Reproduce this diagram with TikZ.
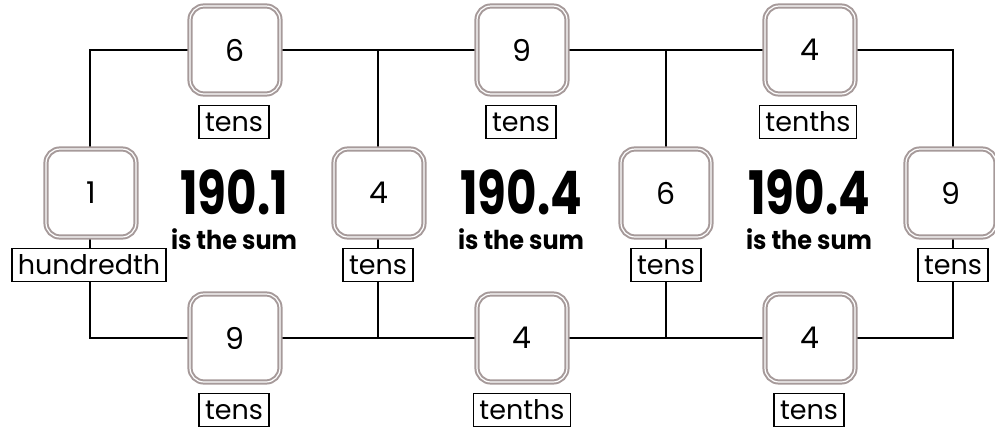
\documentclass[tikz,border=0pt]{standalone}
\usepackage{fontspec}
\usepackage{graphicx}
\setmainfont{Poppins}
\definecolor{bgray}{HTML}{A69A9A}
\begin{document}
\begin{tikzpicture}[x=1pt,y=-1pt,
  numbox/.style={draw=bgray, line width=2pt, double=white, double distance=1.2pt,
    rounded corners=14pt, fill=white, minimum width=90pt, minimum height=88pt,
    inner sep=0pt, font=\fontsize{30}{30}\selectfont},
  unitlabel/.style={draw=black, line width=1.5pt, fill=white, minimum height=33pt,
    inner xsep=6pt, inner ysep=0pt, font=\fontsize{27}{27}\selectfont},
  link/.style={draw=black, line width=1.5pt},
  bigsum/.style={anchor=base, inner sep=0pt, text height=42pt, text depth=0pt,
    font=\bfseries\fontsize{60}{60}\selectfont},
  sumtext/.style={anchor=base, inner sep=0pt, text height=19pt, text depth=0pt,
    font=\bfseries\fontsize{26}{26}\selectfont}]
\useasboundingbox (0,0) rectangle (995,429);
% corner and junction coordinates
\coordinate (tl) at (90,50);
\coordinate (tr) at (953,50);
\coordinate (bl) at (90,338);
\coordinate (br) at (953,338);
\coordinate (jta) at (378,50);
\coordinate (jtb) at (666,50);
\coordinate (jba) at (378,338);
\coordinate (jbb) at (666,338);
% connectors
\draw[link] (tl) -- (tr) -- (br) -- (bl) -- cycle;
\draw[link] (jta) -- (jba);
\draw[link] (jtb) -- (jbb);
% top row
\node[numbox] (t1) at (235,50) {6};
\node[numbox] (t2) at (522,50) {9};
\node[numbox] (t3) at (810,50) {4};
% middle row
\node[numbox] (m1) at (91,193) {1};
\node[numbox] (m2) at (379,193) {4};
\node[numbox] (m3) at (666,193) {6};
\node[numbox] (m4) at (951,193) {9};
% bottom row
\node[numbox] (b1) at (235,338) {9};
\node[numbox] (b2) at (522,338) {4};
\node[numbox] (b3) at (810,338) {4};
% labels
\node[unitlabel] (lt1) at (234,122) {tens};
\node[unitlabel] (lt2) at (521,122) {tens};
\node[unitlabel] (lt3) at (808,122) {tenths};
\node[unitlabel] (lm1) at (89,265) {hundredth};
\node[unitlabel] (lm2) at (378,265) {tens};
\node[unitlabel] (lm3) at (666,265) {tens};
\node[unitlabel] (lm4) at (953,265) {tens};
\node[unitlabel] (lb1) at (234,410) {tens};
\node[unitlabel] (lb2) at (522,410) {tenths};
\node[unitlabel] (lb3) at (809,410) {tens};
% sums
\node[bigsum] (s1) at (234,214) {\scalebox{0.78}[1]{190.1}};
\node[sumtext] (st1) at (234,249) {\scalebox{0.92}[1]{is the sum}};
\node[bigsum] (s2) at (521,214) {\scalebox{0.78}[1]{190.4}};
\node[sumtext] (st2) at (521,249) {\scalebox{0.92}[1]{is the sum}};
\node[bigsum] (s3) at (809,214) {\scalebox{0.78}[1]{190.4}};
\node[sumtext] (st3) at (809,249) {\scalebox{0.92}[1]{is the sum}};
\end{tikzpicture}
\end{document}
